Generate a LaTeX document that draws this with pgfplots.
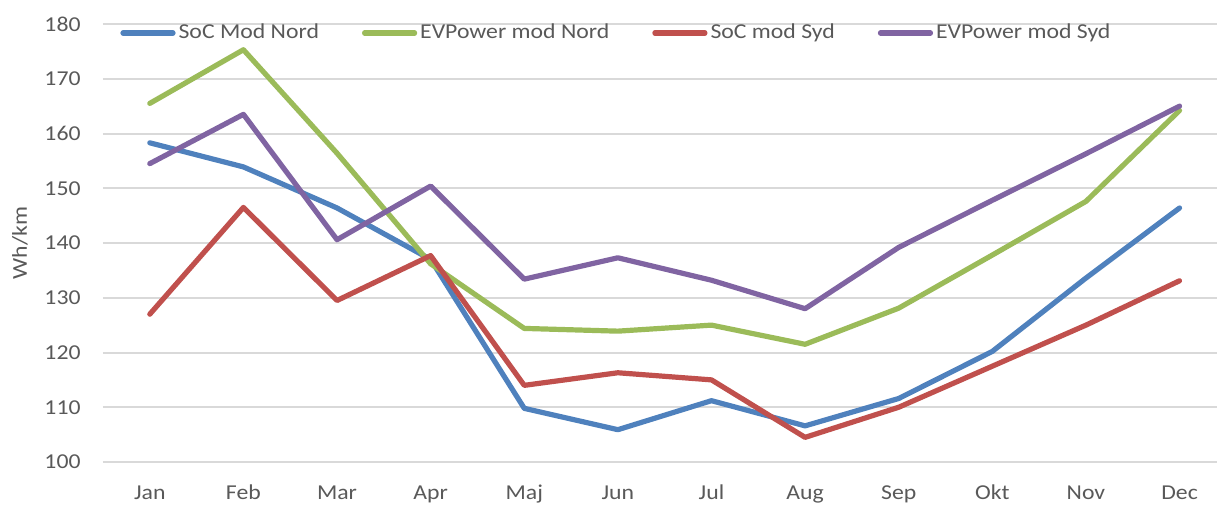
\documentclass[border=0pt]{standalone}
\usepackage{pgfplots}
\pgfplotsset{compat=1.18}
\usepackage{pgfplotstable}
\usepackage{fontspec}
\setmainfont{Carlito}[FakeStretch=1.12]

\definecolor{socnord}{HTML}{4F81BD}
\definecolor{evnord}{HTML}{9BBB59}
\definecolor{socsyd}{HTML}{C0504D}
\definecolor{evsyd}{HTML}{8064A2}
\definecolor{txtgray}{HTML}{595959}
\definecolor{gridgray}{HTML}{D9D9D9}

% month index, Wh/km
\pgfplotstableread{
m v
0 158.3
1 153.9
2 146.4
3 137.0
4 109.8
5 105.9
6 111.2
7 106.6
8 111.6
9 120.2
10 133.6
11 146.4
}\socnordtab
\pgfplotstableread{
m v
0 165.5
1 175.3
2 156.4
3 136.2
4 124.4
5 123.9
6 125.0
7 121.5
8 128.1
9 137.8
10 147.6
11 164.2
}\evnordtab
\pgfplotstableread{
m v
0 127.0
1 146.5
2 129.5
3 137.7
4 114.0
5 116.3
6 115.0
7 104.5
8 110.0
9 117.5
10 125.0
11 133.1
}\socsydtab
\pgfplotstableread{
m v
0 154.5
1 163.5
2 140.6
3 150.4
4 133.4
5 137.3
6 133.2
7 128.0
8 139.2
9 147.8
10 156.3
11 165.0
}\evsydtab

\newcommand{\chartfont}{\fontsize{10.6pt}{12.7pt}\selectfont}

\begin{document}
\chartfont
\begin{tikzpicture}
\begin{axis}[
  name=ax,
  at={(0pt,0pt)}, anchor=south west,
  scale only axis,
  width=557pt, height=219pt,
  xmin=-0.5, xmax=11.4,
  ymin=100, ymax=180,
  ytick={100,110,...,180},
  xtick={0,...,11},
  xticklabels={Jan,Feb,Mar,Apr,Maj,Jun,Jul,Aug,Sep,Okt,Nov,Dec},
  axis line style={draw=none},
  major tick length=0pt,
  ymajorgrids,
  grid style={gridgray, line width=1pt},
  tick label style={font=\chartfont, text=txtgray},
  /pgf/number format/assume math mode=true,
  xticklabel style={anchor=base, yshift=-19pt, inner sep=0pt},
  yticklabel style={anchor=east, xshift=-11pt, inner sep=0pt},
  ylabel={Wh/km},
  ylabel style={at={(axis description cs:-0.0745,0.5)}, anchor=center, text=txtgray,
    font=\chartfont},
  clip=false,
  legend columns=4,
  legend style={
    at={(axis description cs:0.01526,0.9795)}, anchor=west,
    draw=none, fill=none, inner sep=0pt,
    font=\chartfont, text=txtgray,
    nodes={inner xsep=1.5pt, inner ysep=0pt},
    /tikz/every even column/.append style={column sep=20pt},
  },
  legend image code/.code={\draw[#1, line cap=round] (1.25pt,0pt) -- (26.25pt,0pt);},
  every axis plot/.append style={line width=2.6pt, line join=round, line cap=round},
]
\addplot[socnord] table[x=m, y=v] {\socnordtab};
\addlegendentry{SoC Mod Nord}
\addplot[evnord] table[x=m, y=v] {\evnordtab};
\addlegendentry{EVPower mod Nord}
\addplot[socsyd] table[x=m, y=v] {\socsydtab};
\addlegendentry{SoC mod Syd}
\addplot[evsyd] table[x=m, y=v] {\evsydtab};
\addlegendentry{EVPower mod Syd}
\end{axis}
\pgfresetboundingbox
\path[use as bounding box] (-51.5pt,-21pt) rectangle (557pt,231pt);
\end{tikzpicture}
\end{document}
